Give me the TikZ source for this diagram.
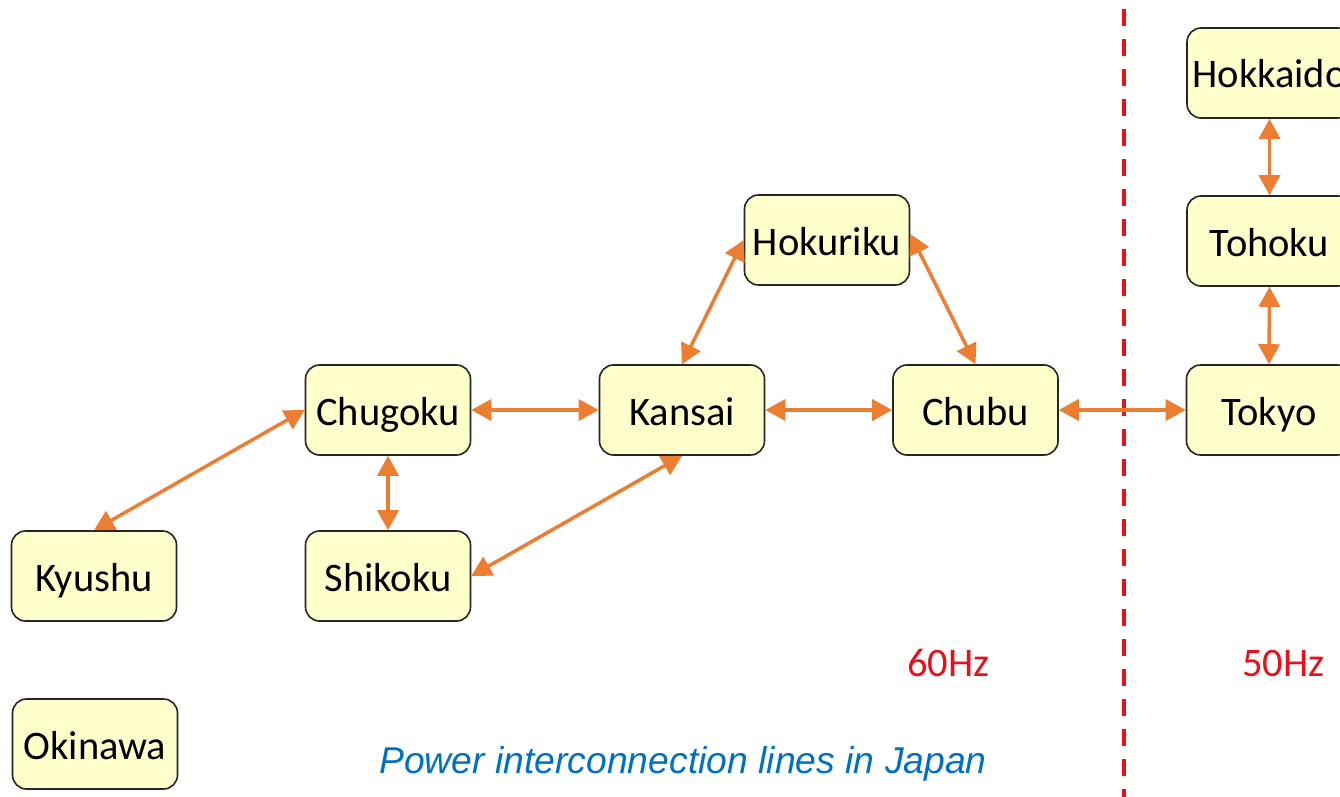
\documentclass[tikz,border=0pt]{standalone}
\usepackage{fontspec}
\setmainfont{Carlito}
\newfontfamily\capfont{Liberation Sans}
\usetikzlibrary{arrows.meta}
\definecolor{boxfill}{HTML}{FFFFCC}
\definecolor{arrowc}{HTML}{ED7D31}
\definecolor{hzred}{HTML}{E8101A}
\definecolor{capblue}{HTML}{0070C0}
\begin{document}
\begin{tikzpicture}[x=1pt,y=-1pt,
  region/.style={draw=black!85, line width=1.6pt, fill=boxfill, rounded corners=14pt,
    minimum width=165pt, minimum height=90pt, inner sep=0pt,
    text height=30pt, text depth=0pt,
    font=\fontsize{40.5}{44}\selectfont},
  link/.style={draw=arrowc, line width=3.5pt, {Triangle[length=20pt,width=21pt]}-{Triangle[length=20pt,width=21pt]}},
  hz/.style={text=hzred, font=\fontsize{40.5}{44}\selectfont}]
\useasboundingbox (0,0) rectangle (1340,797);
\fill[white] (0,0) rectangle (1340,797);
\node[region] (hokkaido) at (1269.5,73) {Hokkaido};
\node[region] (tohoku) at (1269.5,241) {Tohoku};
\node[region] (tokyo) at (1269,410) {Tokyo};
\node[region] (hokuriku) at (827,240) {Hokuriku};
\node[region] (chugoku) at (388,410) {Chugoku};
\node[region] (kansai) at (682,410) {Kansai};
\node[region] (chubu) at (975.5,410) {Chubu};
\node[region] (kyushu) at (94,576) {Kyushu};
\node[region] (shikoku) at (388,576) {Shikoku};
\node[region] (okinawa) at (95,744) {Okinawa};
\coordinate (dtop) at (1123.5,9);
\coordinate (dbot) at (1123.5,797);
\draw[hzred, line width=4pt, dash pattern=on 17pt off 13pt] (dtop) -- (dbot);
\draw[link] (kyushu.north) -- (chugoku.west);
\draw[link] (chugoku.east) -- (kansai.west);
\draw[link] (chugoku.south) -- (shikoku.north);
\draw[link] (shikoku.east) -- (kansai.south);
\draw[link] (kansai.north) -- (hokuriku.west);
\draw[link] ([yshift=6pt]hokuriku.east) -- (chubu.north);
\draw[link] (kansai.east) -- (chubu.west);
\draw[link] (chubu.east) -- (tokyo.west);
\draw[link] (tohoku.south) -- (tokyo.north);
\draw[link] (hokkaido.south) -- (tohoku.north);
\node[hz] (hz60) at (948.5,663) {60Hz};
\node[hz] (hz50) at (1283.5,663) {50Hz};
\node[text=capblue, font=\capfont\itshape\fontsize{37.3}{40}\selectfont] (caption) at (683,764) {Power interconnection lines in Japan};
\end{tikzpicture}
\end{document}
